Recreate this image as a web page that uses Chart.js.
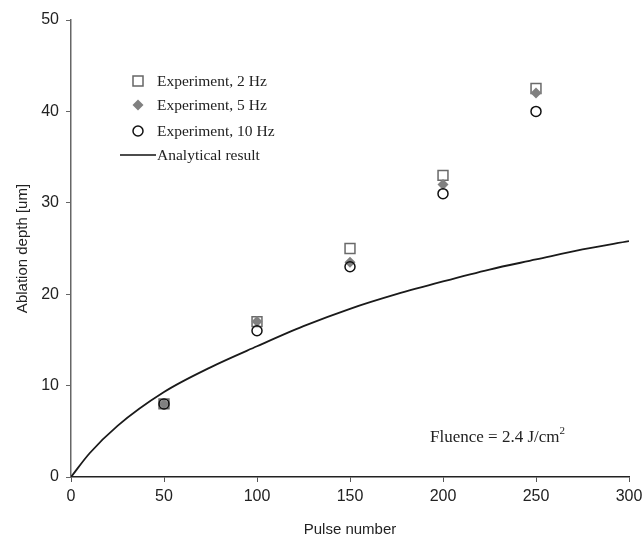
<!DOCTYPE html>
<html>
<head>
<meta charset="utf-8">
<script src="https://cdn.jsdelivr.net/npm/chart.js@4.4.1/dist/chart.umd.min.js"></script>
<style>
  html, body { margin: 0; padding: 0; background: #fff; }
  #wrap { width: 644px; height: 543px; }
</style>
</head>
<body>
<div id="wrap"><canvas id="ablation_graph" width="644" height="543"></canvas></div>
<script>
// measured points
var pulses = [50, 100, 150, 200, 250];
var exp2Hz = [8, 17, 25, 33, 42.5];
var exp5Hz = [8, 17, 23.5, 32, 42];
var exp10Hz = [8, 16, 23, 31, 40];

// analytical curve
var modelPulses = [0, 10, 25, 50, 75, 100, 125, 150, 175, 200, 225, 250, 275, 300];
var modelDepth = [0, 2.6, 5.6, 9.3, 12.0, 14.3, 16.5, 18.4, 20.0, 21.4, 22.7, 23.8, 24.9, 25.8];

var seriesNames = ["Experiment, 2 Hz", "Experiment, 5 Hz", "Experiment, 10 Hz", "Analytical result"];
var fluenceText = "Fluence = 2.4 J/cm";

function toXY(xs, ys) {
    var out = [];
    for (var i = 0; i < xs.length; i++) {
        out.push({ x : xs[i], y : ys[i] });
    }
    return out;
}

// legend + fluence note drawn inside the plot
var notesPlugin = {
    id : "notes",
    afterDraw : function(chart) {
        var ctx = chart.ctx;
        ctx.save();
        ctx.font = "15.5px 'Liberation Serif', 'Times New Roman', serif";
        ctx.fillStyle = "#222";
        ctx.textBaseline = "middle";
        var tx = 157;
        var rows = [81, 105, 131, 155];

        // square
        ctx.strokeStyle = "#666";
        ctx.lineWidth = 1.5;
        ctx.strokeRect(138 - 5, rows[0] - 5, 10, 10);
        // diamond
        ctx.fillStyle = "#808080";
        ctx.beginPath();
        ctx.moveTo(138, rows[1] - 5.5);
        ctx.lineTo(143.5, rows[1]);
        ctx.lineTo(138, rows[1] + 5.5);
        ctx.lineTo(132.5, rows[1]);
        ctx.closePath();
        ctx.fill();
        // circle
        ctx.strokeStyle = "#111";
        ctx.beginPath();
        ctx.arc(138, rows[2], 5, 0, Math.PI * 2);
        ctx.stroke();
        // line
        ctx.lineWidth = 1.6;
        ctx.beginPath();
        ctx.moveTo(120, rows[3]);
        ctx.lineTo(156, rows[3]);
        ctx.stroke();

        ctx.fillStyle = "#222";
        for (var i = 0; i < seriesNames.length; i++) {
            ctx.fillText(seriesNames[i], tx, rows[i] + 1);
        }

        // fluence note with superscript
        ctx.font = "17px 'Liberation Serif', 'Times New Roman', serif";
        ctx.textBaseline = "alphabetic";
        ctx.fillText(fluenceText, 430, 442);
        var w = ctx.measureText(fluenceText).width;
        ctx.font = "11px 'Liberation Serif', 'Times New Roman', serif";
        ctx.fillText("2", 430 + w, 434);
        ctx.restore();
    }
};

var ctx = document.getElementById("ablation_graph");

var graph_data = {
    datasets : [
        {
            label : seriesNames[3],
            type : "line",
            data : toXY(modelPulses, modelDepth),
            borderColor : "#1a1a1a",
            borderWidth : 1.8,
            pointRadius : 0,
            fill : false,
            cubicInterpolationMode : "monotone",
            order : 4
        },
        {
            label : seriesNames[0],
            data : toXY(pulses, exp2Hz),
            pointStyle : "rect",
            pointRadius : 7,
            backgroundColor : "rgba(255,255,255,0)",
            borderColor : "#6a6a6a",
            borderWidth : 1.5,
            order : 3
        },
        {
            label : seriesNames[1],
            data : toXY(pulses, exp5Hz),
            pointStyle : "rectRot",
            pointRadius : 5.5,
            backgroundColor : "#808080",
            borderColor : "#808080",
            borderWidth : 0,
            order : 2
        },
        {
            label : seriesNames[2],
            data : toXY(pulses, exp10Hz),
            pointStyle : "circle",
            pointRadius : 5,
            backgroundColor : "rgba(255,255,255,0)",
            borderColor : "#111",
            borderWidth : 1.5,
            order : 1
        }
    ]
};

var tickFont = { family : "'Liberation Sans', Arial, sans-serif", size : 16 };
var titleFont = { family : "'Liberation Sans', Arial, sans-serif", size : 15 };

var options = {
    responsive : false,
    animation : false,
    layout : { padding : { left : 10, right : 15, top : 20, bottom : 0 } },
    plugins : {
        legend : { display : false },
        tooltip : { enabled : false }
    },
    scales : {
        x : {
            type : "linear",
            min : 0,
            max : 300,
            ticks : { stepSize : 50, color : "#222", font : tickFont, padding : 5 },
            grid : { display : true, drawOnChartArea : false, drawTicks : true, tickLength : 5, color : "#555" },
            border : { display : true, color : "#222", width : 1.5 },
            title : { display : true, text : "Pulse number", color : "#222", font : titleFont, padding : { top : 9 } },
            afterFit : function(scale) {
                scale.height = 66;
                scale.paddingLeft = 0;
                scale.paddingRight = 0;
            }
        },
        y : {
            type : "linear",
            min : 0,
            max : 50,
            ticks : { stepSize : 10, color : "#222", font : tickFont, padding : 7 },
            grid : { display : true, drawOnChartArea : false, drawTicks : true, tickLength : 5, color : "#666" },
            border : { display : true, color : "#666", width : 1.5 },
            title : { display : true, text : "Ablation depth [um]", color : "#222", font : titleFont, padding : { bottom : 2 } },
            afterFit : function(scale) {
                scale.width = 61;
                scale.paddingTop = 0;
                scale.paddingBottom = 0;
            }
        }
    }
};

var chart = new Chart(ctx, {
    type : "scatter",
    data : graph_data,
    options : options,
    plugins : [notesPlugin]
});
</script>
</body>
</html>
